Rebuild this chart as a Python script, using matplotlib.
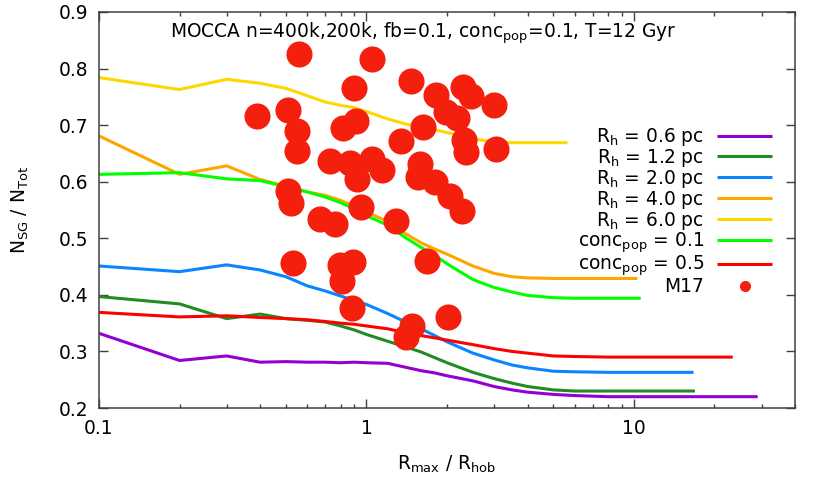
import matplotlib
matplotlib.use('Agg')
import matplotlib.pyplot as plt
from matplotlib.lines import Line2D
from matplotlib.ticker import FixedLocator, LogLocator, NullFormatter, FuncFormatter
import numpy as np

plt.rcParams['font.family'] = ['DejaVu Sans']
plt.rcParams['mathtext.default'] = 'regular'

# ---------------- data ----------------
x_common = [0.1, 0.2, 0.3, 0.4, 0.5, 0.6, 0.7, 0.8, 0.9, 1.0, 1.2, 1.4, 1.6, 1.8,
            2.0, 2.5, 3.0, 3.5, 4.0, 5.0, 6.0, 8.0, 10.0]

rh06_x = x_common + [15.0, 20.0, 29.0]
rh06_y = [0.332, 0.284, 0.292, 0.281, 0.282, 0.281, 0.281, 0.280, 0.281, 0.280, 0.279,
          0.272, 0.266, 0.262, 0.257, 0.248, 0.238, 0.232, 0.228, 0.224, 0.222, 0.220,
          0.220, 0.220, 0.220, 0.220]

rh12_x = x_common + [16.9]
rh12_y = [0.397, 0.384, 0.358, 0.366, 0.358, 0.355, 0.352, 0.345, 0.338, 0.330, 0.318,
          0.308, 0.299, 0.289, 0.280, 0.263, 0.252, 0.244, 0.238, 0.232, 0.230, 0.230,
          0.230, 0.230]

rh20_x = x_common + [16.7]
rh20_y = [0.451, 0.441, 0.453, 0.444, 0.432, 0.416, 0.407, 0.398, 0.390, 0.383, 0.367,
          0.352, 0.340, 0.328, 0.317, 0.297, 0.285, 0.276, 0.271, 0.265, 0.264, 0.263,
          0.263, 0.263]

rh40_x = x_common[:-1] + [10.3]
rh40_y = [0.681, 0.613, 0.628, 0.604, 0.592, 0.582, 0.576, 0.567, 0.557, 0.546, 0.530,
          0.508, 0.492, 0.481, 0.472, 0.451, 0.438, 0.432, 0.430, 0.429, 0.429, 0.429,
          0.429]

rh60_x = x_common[:20] + [5.64]
rh60_y = [0.784, 0.763, 0.781, 0.774, 0.765, 0.752, 0.741, 0.735, 0.731, 0.724, 0.711,
          0.702, 0.697, 0.692, 0.687, 0.676, 0.670, 0.669, 0.669, 0.669, 0.669]

conc01_x = x_common[:-1] + [10.6]
conc01_y = [0.613, 0.616, 0.605, 0.602, 0.591, 0.582, 0.573, 0.563, 0.552, 0.540, 0.523,
            0.501, 0.484, 0.470, 0.455, 0.427, 0.413, 0.405, 0.399, 0.395, 0.394, 0.394,
            0.394]

conc05_x = x_common + [23.4]
conc05_y = [0.369, 0.361, 0.363, 0.360, 0.358, 0.356, 0.353, 0.350, 0.348, 0.345, 0.340,
            0.333, 0.328, 0.324, 0.320, 0.312, 0.305, 0.300, 0.297, 0.292, 0.291, 0.290,
            0.290, 0.290]

m17_x = [0.559, 1.047, 0.897, 1.464, 1.815, 2.289, 2.453, 2.989, 1.978, 2.175, 1.623,
         1.343, 2.309, 2.349, 3.041, 0.389, 0.508, 0.549, 0.549, 0.816, 0.912, 0.729,
         0.866, 1.047, 1.141, 0.920, 1.581, 1.554, 1.799, 2.047, 2.270, 0.508, 0.522,
         0.669, 0.761, 0.952, 1.286, 0.531, 0.795, 0.889, 0.809, 0.881, 1.680, 1.476,
         1.402, 2.012]
m17_y = [0.825, 0.817, 0.765, 0.778, 0.753, 0.767, 0.751, 0.735, 0.723, 0.712, 0.697,
         0.672, 0.674, 0.652, 0.658, 0.716, 0.727, 0.689, 0.654, 0.695, 0.707, 0.636,
         0.633, 0.640, 0.621, 0.605, 0.631, 0.608, 0.599, 0.575, 0.548, 0.583, 0.562,
         0.534, 0.525, 0.555, 0.530, 0.456, 0.453, 0.458, 0.424, 0.377, 0.460, 0.345,
         0.325, 0.361]

labels = ['R$_{h}$ = 0.6 pc', 'R$_{h}$ = 1.2 pc', 'R$_{h}$ = 2.0 pc', 'R$_{h}$ = 4.0 pc',
          'R$_{h}$ = 6.0 pc', 'conc$_{pop}$ = 0.1', 'conc$_{pop}$ = 0.5', 'M17']
colors = ['#9400d3', '#228b22', '#0a85ff', '#ffa500', '#ffd700', '#00ff00', '#ff0000']
dot_color = '#f41f0d'

FS = 13.4

# ---------------- figure ----------------
fig = plt.figure(figsize=(8.3, 4.98), dpi=100)
ax = fig.add_axes([99 / 830, 1 - 408 / 498, 696 / 830, 396 / 498])
ax.set_xscale('log')

series = [(rh06_x, rh06_y), (rh12_x, rh12_y), (rh20_x, rh20_y), (rh40_x, rh40_y),
          (rh60_x, rh60_y), (conc01_x, conc01_y), (conc05_x, conc05_y)]
handles = []
for i, ((xs, ys), c) in enumerate(zip(series, colors)):
    ln, = ax.plot(xs, ys, color=c, lw=2.2, solid_capstyle='butt', solid_joinstyle='round',
                  zorder=2 + i * 0.1)
    handles.append(ln)

ax.plot(m17_x, m17_y, 'o', ms=18.8, color=dot_color, mew=0, zorder=5)
handles.append(Line2D([], [], marker='o', ls='none', ms=8, mew=0, color=dot_color))

ax.set_xlim(0.1, 40)
ax.set_ylim(0.2, 0.9)

ax.xaxis.set_major_locator(FixedLocator([0.1, 1, 10]))
ax.xaxis.set_major_formatter(FuncFormatter(lambda v, p: f'{v:g}'))
ax.xaxis.set_minor_locator(LogLocator(base=10, subs=np.arange(2, 10)))
ax.xaxis.set_minor_formatter(NullFormatter())
ax.yaxis.set_major_locator(FixedLocator(np.round(np.arange(0.2, 0.91, 0.1), 1)))
ax.yaxis.set_major_formatter(FuncFormatter(lambda v, p: f'{v:.1f}'))

frame_c = '#404040'
for s in ax.spines.values():
    s.set_color(frame_c)
    s.set_linewidth(1.1)
ax.tick_params(which='both', direction='in', top=True, right=True, color=frame_c,
               width=1.0, labelsize=FS, pad=8)
ax.tick_params(which='major', length=6.5)
ax.tick_params(which='minor', length=3.2)

ax.set_xlabel('R$_{max}$ / R$_{hob}$', fontsize=FS)
ax.set_ylabel('N$_{SG}$ / N$_{Tot}$', fontsize=FS)
ax.xaxis.set_label_coords(0.5, -0.115)
ax.yaxis.set_label_coords(-0.098, 0.5)

ax.text(0.4655, 0.947, 'MOCCA n=400k,200k, fb=0.1, conc$_{pop}$=0.1, T=12 Gyr',
        transform=ax.transAxes, ha='center', va='center', fontsize=FS)

leg = ax.legend(handles, labels, loc='upper right', bbox_to_anchor=(0.967, 0.712),
                frameon=False, markerfirst=False, fontsize=FS, borderpad=0,
                borderaxespad=0, handlelength=2.95, handletextpad=0.7,
                labelspacing=-0.06, numpoints=1)

fig.savefig('out.png', dpi=100)
